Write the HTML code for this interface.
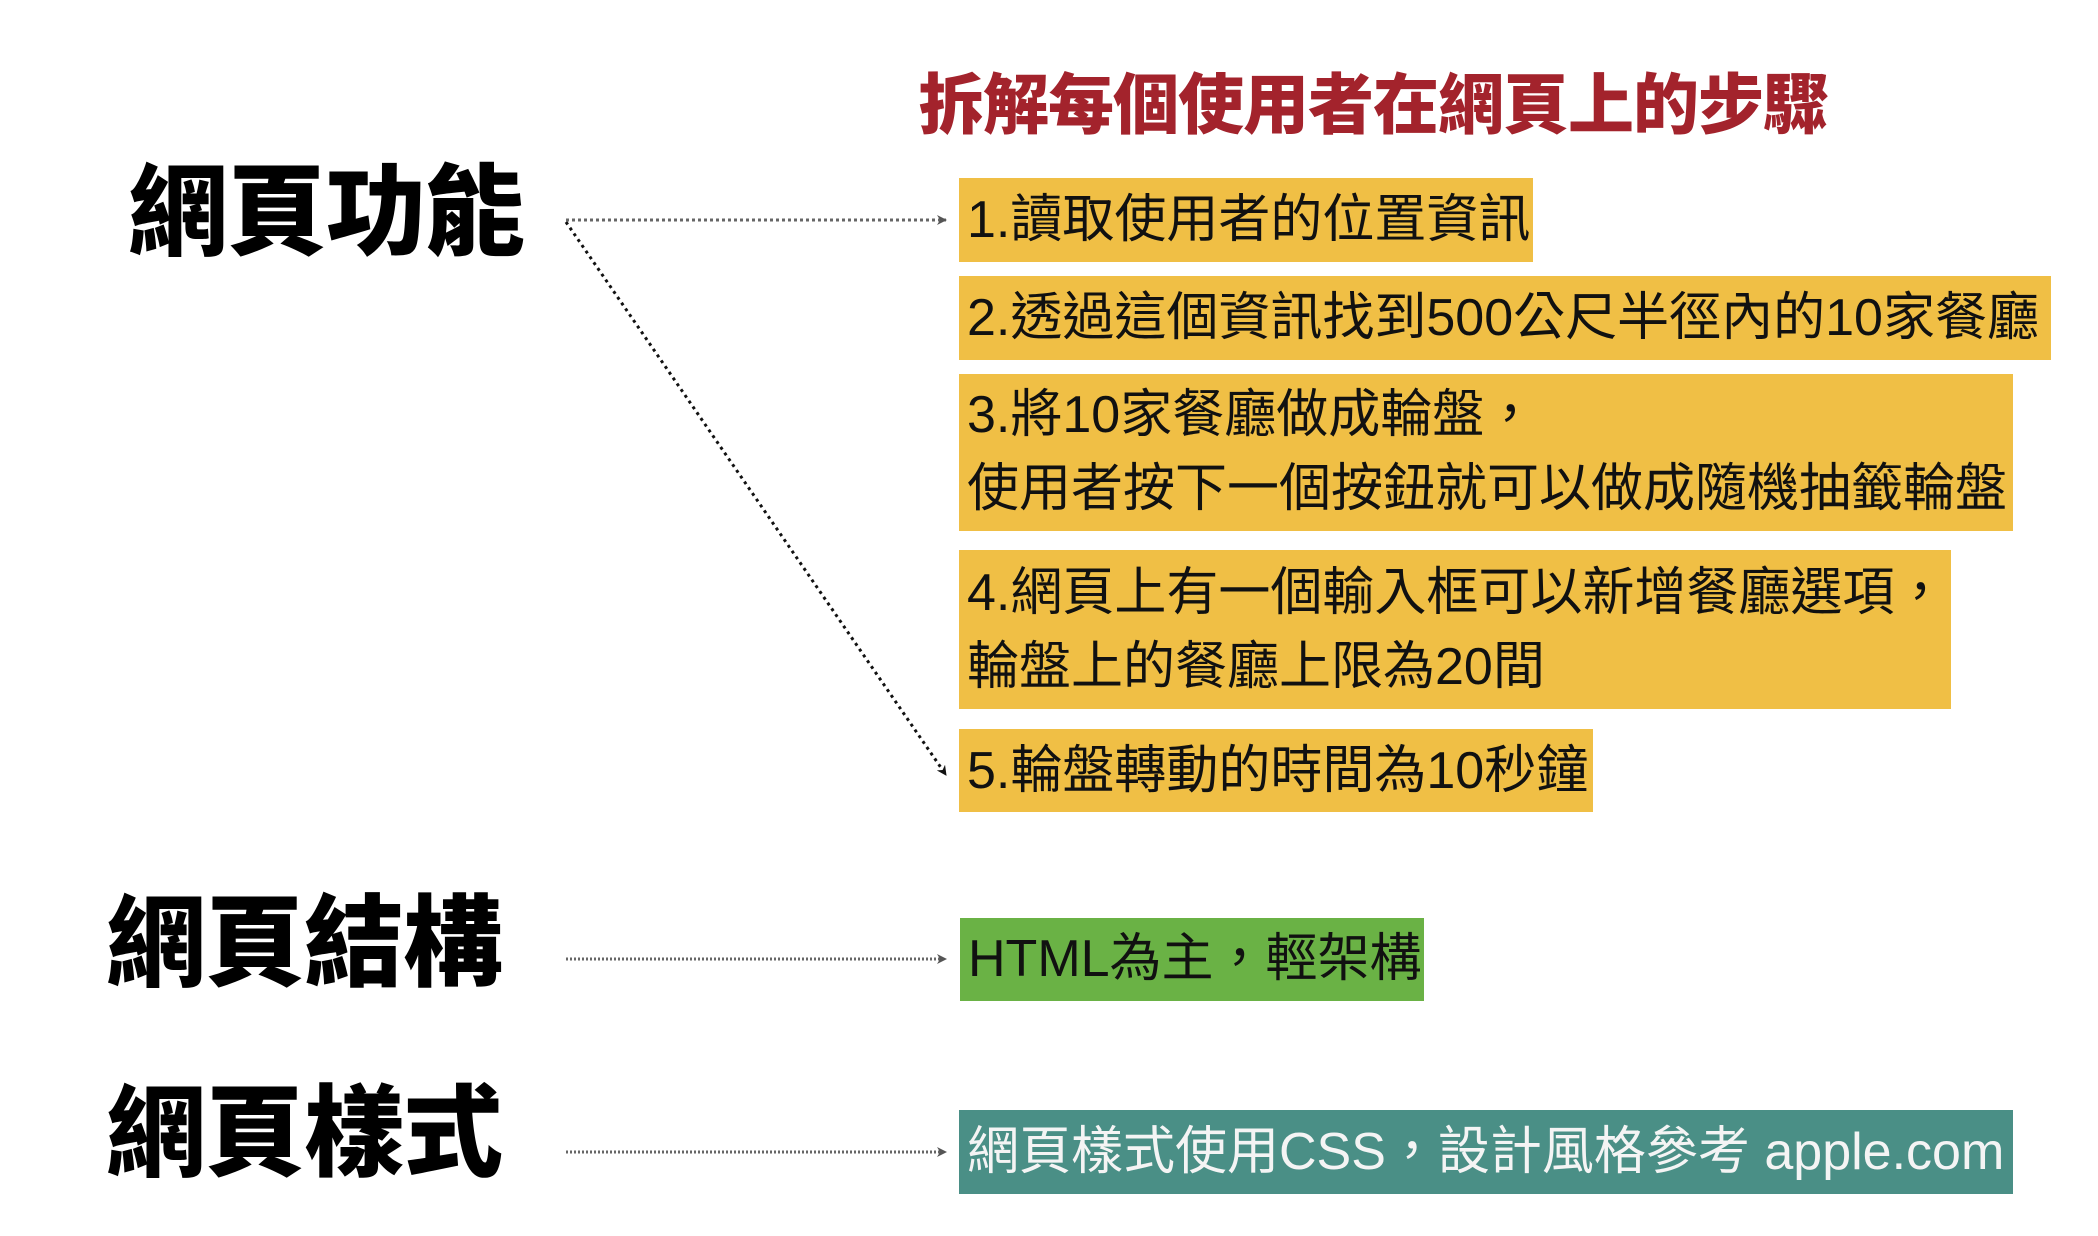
<!DOCTYPE html>
<html><head><meta charset="utf-8"><style>
html,body{margin:0;padding:0;background:#fff;}
body{width:2098px;height:1236px;position:relative;overflow:hidden;font-family:"Liberation Sans","Noto Sans CJK TC",sans-serif;}
.a{position:absolute;white-space:nowrap;}
.big{font-family:"Noto Sans CJK TC",sans-serif;font-weight:900;font-size:100px;line-height:100px;color:#000;letter-spacing:-1px;}
.box{position:absolute;background:#f0bf45;color:#111;font-family:"Liberation Sans","Noto Sans CJK TC",sans-serif;font-size:52px;line-height:74px;padding-left:8px;box-sizing:border-box;white-space:nowrap;}
</style></head><body>
<div class="a" style="left:918px;top:62px;font-family:'Noto Sans CJK TC',sans-serif;font-weight:900;font-size:66px;line-height:76px;color:#a3232c;letter-spacing:-1px;">拆解每個使用者在網頁上的步驟</div>

<div class="a big" style="left:128px;top:154px;">網頁功能</div>
<div class="a big" style="left:106px;top:885px;">網頁結構</div>
<div class="a big" style="left:106px;top:1075px;">網頁樣式</div>

<div class="box" style="left:959px;top:178px;width:574px;height:84px;padding-top:5px;">1.讀取使用者的位置資訊</div>
<div class="box" style="left:959px;top:276px;width:1092px;height:84px;padding-top:5px;">2.透過這個資訊找到500公尺半徑內的10家餐廳</div>
<div class="box" style="left:959px;top:374px;width:1054px;height:157px;line-height:74px;padding-top:4px;">3.將10家餐廳做成輪盤，<br>使用者按下一個按鈕就可以做成隨機抽籤輪盤</div>
<div class="box" style="left:959px;top:550px;width:992px;height:159px;line-height:74px;padding-top:6px;">4.網頁上有一個輸入框可以新增餐廳選項，<br>輪盤上的餐廳上限為20間</div>
<div class="box" style="left:959px;top:729px;width:634px;height:83px;padding-top:5px;">5.輪盤轉動的時間為10秒鐘</div>
<div class="box" style="left:960px;top:918px;width:464px;height:83px;padding-top:4px;background:#6ab245;">HTML為主，輕架構</div>
<div class="box" style="left:959px;top:1110px;width:1054px;height:84px;padding-top:5px;background:#4a8f86;color:#f4f4f4;">網頁樣式使用CSS，設計風格參考 apple.com</div>

<svg width="2098" height="1236" style="position:absolute;left:0;top:0;">
<defs><marker id="m" markerWidth="10" markerHeight="10" refX="9" refY="5" orient="auto" markerUnits="userSpaceOnUse"><path d="M0,0 L10,5 L0,10 L3,5 Z" fill="#555"/></marker>
<marker id="k" markerWidth="10" markerHeight="10" refX="9" refY="5" orient="auto" markerUnits="userSpaceOnUse"><path d="M0,0 L10,5 L0,10 L3,5 Z" fill="#111"/></marker></defs>
<line x1="566" y1="220" x2="946" y2="220" stroke="#666" stroke-width="3" stroke-dasharray="3,3" marker-end="url(#m)"/>
<line x1="566" y1="222" x2="946" y2="775" stroke="#111" stroke-width="3" stroke-dasharray="3,4" marker-end="url(#k)"/>
<line x1="566" y1="959" x2="946" y2="959" stroke="#666" stroke-width="3" stroke-dasharray="2,2" marker-end="url(#m)"/>
<line x1="566" y1="1152" x2="946" y2="1152" stroke="#666" stroke-width="3" stroke-dasharray="2,2" marker-end="url(#m)"/>
</svg>
</body></html>
